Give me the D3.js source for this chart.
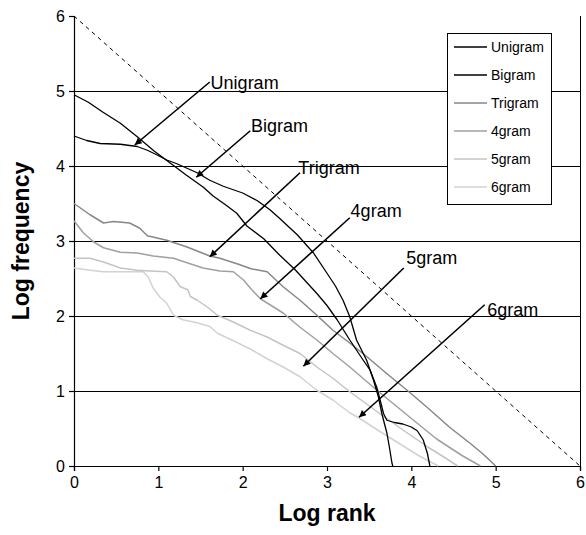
<!DOCTYPE html>
<html>
<head>
<meta charset="utf-8">
<script src="https://cdn.jsdelivr.net/npm/d3@7"></script>
<style>
  html, body { margin: 0; padding: 0; background: #fff; }
  svg { display: block; font-family: "Liberation Sans", Arial, sans-serif; }
</style>
</head>
<body>
<svg id="chart" width="586" height="535"></svg>
<script>
// ---------------- data ----------------
const xTicks = [0, 1, 2, 3, 4, 5, 6];
const yTicks = [0, 1, 2, 3, 4, 5, 6];
const gridValues = [1, 2, 3, 4, 5];
const seriesNames = ["Unigram", "Bigram", "Trigram", "4gram", "5gram", "6gram"];

const unigram = [[0,4.95],[0.17,4.85],[0.34,4.72],[0.55,4.57],[0.75,4.39],[0.95,4.2],[1.14,4.04],[1.33,3.88],[1.53,3.72],[1.65,3.6],[1.8,3.48],[1.93,3.37],[2.05,3.2],[2.25,3.03],[2.44,2.81],[2.62,2.62],[2.88,2.3],[3.0,2.14],[3.12,1.95],[3.27,1.68],[3.43,1.41],[3.51,1.28],[3.59,1.05],[3.63,0.88],[3.67,0.7],[3.71,0.61],[3.8,0.58],[3.9,0.56],[4.0,0.52],[4.07,0.47],[4.14,0.35],[4.19,0.17],[4.22,0]];
const bigram = [[0,4.4],[0.15,4.34],[0.31,4.3],[0.55,4.29],[0.75,4.26],[0.87,4.21],[0.98,4.15],[1.1,4.08],[1.22,4.03],[1.34,3.97],[1.46,3.91],[1.61,3.81],[1.77,3.73],[2.0,3.64],[2.17,3.54],[2.32,3.42],[2.44,3.3],[2.65,3.08],[2.84,2.84],[3.0,2.57],[3.1,2.4],[3.19,2.21],[3.27,1.99],[3.35,1.68],[3.47,1.41],[3.55,1.15],[3.61,0.92],[3.65,0.7],[3.71,0.44],[3.74,0.25],[3.77,0.04],[3.78,0]];
const trigram = [[0,3.5],[0.19,3.35],[0.35,3.24],[0.47,3.26],[0.66,3.24],[0.78,3.17],[0.87,3.07],[1.1,3.01],[1.34,2.92],[1.61,2.8],[1.73,2.77],[1.95,2.69],[2.1,2.63],[2.29,2.59],[2.48,2.39],[2.68,2.21],[2.88,2.01],[3.07,1.81],[3.27,1.64],[3.47,1.46],[3.7,1.24],[3.95,1.01],[4.2,0.77],[4.45,0.52],[4.7,0.3],[4.85,0.16],[5.0,0]];
const fourgram = [[0,3.27],[0.11,3.11],[0.23,2.99],[0.35,2.91],[0.55,2.85],[0.75,2.84],[0.94,2.8],[1.18,2.77],[1.34,2.71],[1.53,2.64],[1.73,2.6],[1.89,2.59],[2.01,2.48],[2.1,2.36],[2.21,2.23],[2.48,2.04],[2.68,1.85],[2.88,1.68],[3.07,1.5],[3.27,1.32],[3.55,1.05],[3.95,0.68],[4.3,0.36],[4.6,0.14],[4.82,0]];
const fivegram = [[0,2.77],[0.19,2.77],[0.35,2.72],[0.55,2.64],[0.75,2.61],[0.9,2.6],[1.1,2.59],[1.18,2.52],[1.26,2.39],[1.35,2.35],[1.38,2.26],[1.46,2.21],[1.58,2.12],[1.7,2.01],[1.89,1.92],[2.09,1.81],[2.29,1.72],[2.48,1.61],[2.68,1.5],[2.88,1.32],[3.07,1.17],[3.27,0.99],[3.6,0.72],[3.9,0.48],[4.2,0.25],[4.4,0.11],[4.55,0]];
const sixgram = [[0,2.64],[0.19,2.61],[0.35,2.59],[0.55,2.59],[0.82,2.59],[0.88,2.52],[0.94,2.37],[1.02,2.25],[1.1,2.17],[1.18,2.01],[1.29,1.95],[1.46,1.91],[1.61,1.86],[1.7,1.77],[1.89,1.67],[2.09,1.56],[2.29,1.43],[2.48,1.32],[2.68,1.19],[2.88,1.01],[3.07,0.88],[3.27,0.71],[3.38,0.64],[3.6,0.48],[3.9,0.27],[4.1,0.13],[4.32,0]];
const reference = [[0,6],[6,0]];

// annotations: label text, label anchor (data), line start (data), arrow tip (data)
const annLabels = ["Unigram", "Bigram", "Trigram", "4gram", "5gram", "6gram"];
const annLabelPos = [[1.62,5.03],[2.1,4.45],[2.66,3.9],[3.28,3.32],[3.94,2.69],[4.9,2.0]];
const annStart = [[1.61,5.12],[2.09,4.47],[2.68,3.91],[3.27,3.31],[3.91,2.64],[4.87,2.15]];
const annTip = [[0.72,4.28],[1.45,3.85],[1.61,2.79],[2.21,2.23],[2.72,1.33],[3.38,0.65]];

// ---------------- layout ----------------
const svg = d3.select("#chart");
const L = 74, R = 580, T = 16, B = 466;
const x = d3.scaleLinear().domain([0, 6]).range([L, R]);
const y = d3.scaleLinear().domain([0, 6]).range([B, T]);

const colors = ["#000000", "#000000", "#878787", "#a0a0a0", "#c4c4c4", "#d2d2d2"];
const widths = [1.3, 1.3, 1.5, 1.5, 1.5, 1.5];
const series = [unigram, bigram, trigram, fourgram, fivegram, sixgram];

// gridlines
svg.append("g").selectAll("line").data(gridValues).join("line")
  .attr("x1", x(0)).attr("x2", x(6))
  .attr("y1", d => y(d)).attr("y2", d => y(d))
  .attr("stroke", "#000").attr("stroke-width", 1).attr("shape-rendering", "crispEdges");

// right border
svg.append("line").attr("x1", x(6)).attr("x2", x(6)).attr("y1", y(6)).attr("y2", y(0))
  .attr("stroke", "#000").attr("stroke-width", 1).attr("shape-rendering", "crispEdges");

// axes
const xAxis = d3.axisBottom(x).tickValues(xTicks).tickFormat(d3.format("d")).tickSizeOuter(0).tickSize(5).tickPadding(6);
const yAxis = d3.axisLeft(y).tickValues(yTicks).tickFormat(d3.format("d")).tickSizeOuter(0).tickSize(5).tickPadding(4);
const gx = svg.append("g").attr("transform", `translate(0,${B})`).call(xAxis);
const gy = svg.append("g").attr("transform", `translate(${L},0)`).call(yAxis);
[gx, gy].forEach(g => {
  g.select(".domain").attr("stroke", "#000").attr("stroke-width", 1.2);
  g.selectAll(".tick line").attr("stroke", "#000").attr("stroke-width", 1.2);
  g.selectAll(".tick text").attr("fill", "#000").style("font-size", "16px")
    .style("font-family", '"Liberation Sans", Arial, sans-serif');
});

// reference dashed line
const line = d3.line().x(d => x(d[0])).y(d => y(d[1]));
svg.append("path").datum(reference).attr("d", line)
  .attr("fill", "none").attr("stroke", "#000").attr("stroke-width", 1).attr("stroke-dasharray", "4,4");

// series lines (light first so dark on top)
const order = [5, 4, 3, 2, 1, 0];
svg.append("g").selectAll("path").data(order).join("path")
  .attr("d", i => line(series[i]))
  .attr("fill", "none").attr("stroke", i => colors[i]).attr("stroke-width", i => widths[i])
  .attr("stroke-linejoin", "round");

// arrow marker
svg.append("defs").append("marker").attr("id", "arr")
  .attr("viewBox", "0 0 10 10").attr("refX", 10).attr("refY", 5)
  .attr("markerWidth", 9).attr("markerHeight", 7).attr("markerUnits", "userSpaceOnUse")
  .attr("orient", "auto")
  .append("path").attr("d", "M0,0 L10,5 L0,10 z").attr("fill", "#000");

// annotations
const ann = svg.append("g");
annLabels.forEach((t, i) => {
  ann.append("line")
    .attr("x1", x(annStart[i][0])).attr("y1", y(annStart[i][1]))
    .attr("x2", x(annTip[i][0])).attr("y2", y(annTip[i][1]))
    .attr("stroke", "#000").attr("stroke-width", 1.6).attr("marker-end", "url(#arr)");
  ann.append("text").attr("x", x(annLabelPos[i][0])).attr("y", y(annLabelPos[i][1]))
    .attr("font-size", 18).attr("fill", "#000").text(t);
});

// legend
const lg = svg.append("g");
lg.append("rect").attr("x", 447.5).attr("y", 33.5).attr("width", 104).attr("height", 171)
  .attr("fill", "#fff").attr("stroke", "#000").attr("stroke-width", 1);
seriesNames.forEach((n, i) => {
  const yy = 47 + i * 28;
  lg.append("line").attr("x1", 454).attr("x2", 487).attr("y1", yy).attr("y2", yy)
    .attr("stroke", colors[i]).attr("stroke-width", widths[i]);
  lg.append("text").attr("x", 491).attr("y", yy + 5).attr("font-size", 14).attr("fill", "#000").text(n);
});

// axis titles
svg.append("text").attr("x", (L + R) / 2).attr("y", 521).attr("text-anchor", "middle")
  .attr("font-size", 23).attr("font-weight", "bold").text("Log rank");
svg.append("text").attr("transform", `translate(29,${(T + B) / 2}) rotate(-90)`).attr("text-anchor", "middle")
  .attr("font-size", 23).attr("font-weight", "bold").text("Log frequency");
</script>
</body>
</html>
